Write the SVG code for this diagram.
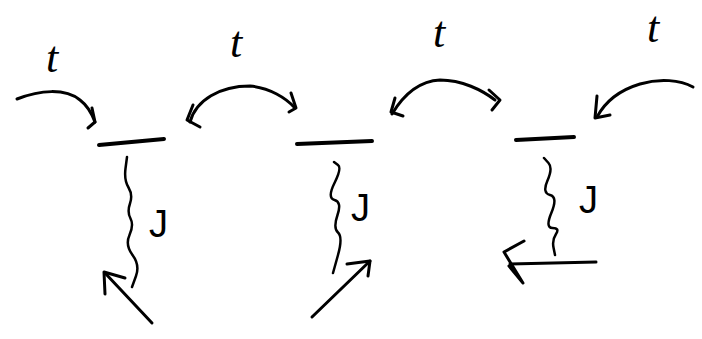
<svg xmlns="http://www.w3.org/2000/svg" width="702" height="339" viewBox="0 0 702 339">
<style>
.s{fill:none;stroke:#000;stroke-width:3;stroke-linecap:round;stroke-linejoin:round}
.w{fill:none;stroke:#000;stroke-width:2.5;stroke-linecap:round;stroke-linejoin:round}
.b{fill:none;stroke:#000;stroke-width:4;stroke-linecap:round}
.lt{font-family:"Liberation Serif",serif;font-style:italic;font-size:44px;fill:#000}
.lj{font-family:"Liberation Sans",sans-serif;font-size:38px;fill:#000}
</style>
<rect width="702" height="339" fill="#fff"/>
<g id="site1">
<path class="b" d="M99 145 L164 139"/>
<path class="w" d="M127 157 L125.5 168.5 Q124 180 128.5 187.5 Q133 195 130 203.5 Q127 212 130.5 218.5 Q134 225 129.5 235 Q125 245 132.5 255 Q140 265 136 276 L132 287"/>
<text class="lj" x="149" y="237">J</text>
</g>
<g id="site2">
<path class="b" d="M297 144 L372 141"/>
<path class="w" d="M334 162 L338 165 Q342 168 334.5 183 Q327 198 334.5 200 Q342 202 337.5 215 Q333 228 338 232.5 Q343 237 338 255 L333 273"/>
<text class="lj" x="351" y="221">J</text>
</g>
<g id="site3">
<path class="b" d="M516 140 L574 137"/>
<path class="w" d="M544 158 L548.5 163 Q553 168 547.5 180.5 Q542 193 550 195 Q558 197 551.5 212.5 Q545 228 552.5 228 Q560 228 556 234 Q552 240 553.5 247.5 L555 255"/>
<text class="lj" x="579" y="213">J</text>
</g>
<g id="labels">
<text class="lt" x="46" y="72">t</text>
<text class="lt" x="230" y="57">t</text>
<text class="lt" x="433" y="47">t</text>
<text class="lt" x="647" y="42">t</text>
</g>
<g id="connectors">
<path class="s" d="M17 99 C40 90 65 88 80 100 C88 106 92 114 95 122"/>
<path class="s" d="M92 108 L95 122 L88 128"/>
<path class="s" d="M190 122 C196 100 220 86 250 86 C270 88 286 98 295 108"/>
<path class="s" d="M193 105 L187 120 L200 127"/>
<path class="s" d="M291 93 L296 108 L289 112"/>
<path class="s" d="M392 114 C404 94 420 81 440 80 C462 80 482 90 495 100"/>
<path class="s" d="M395 98 L391 112 L403 116"/>
<path class="s" d="M489 90 L500 100 L492 110"/>
<path class="s" d="M693 87 C680 80 660 78 640 84 C620 90 605 102 597 117"/>
<path class="s" d="M597 96 L595 118 L610 115"/>
<path class="s" d="M152 323 L105 273"/>
<path class="s" d="M105 294 L104 272 L125 278"/>
<path class="s" d="M312 317 L370 261"/>
<path class="s" d="M347 264 L370 261 L368 276"/>
<path class="s" d="M596 262 L510 264"/>
<path class="s" d="M524 241 L504 252 L523 283 L509 266"/>
</g>
</svg>
